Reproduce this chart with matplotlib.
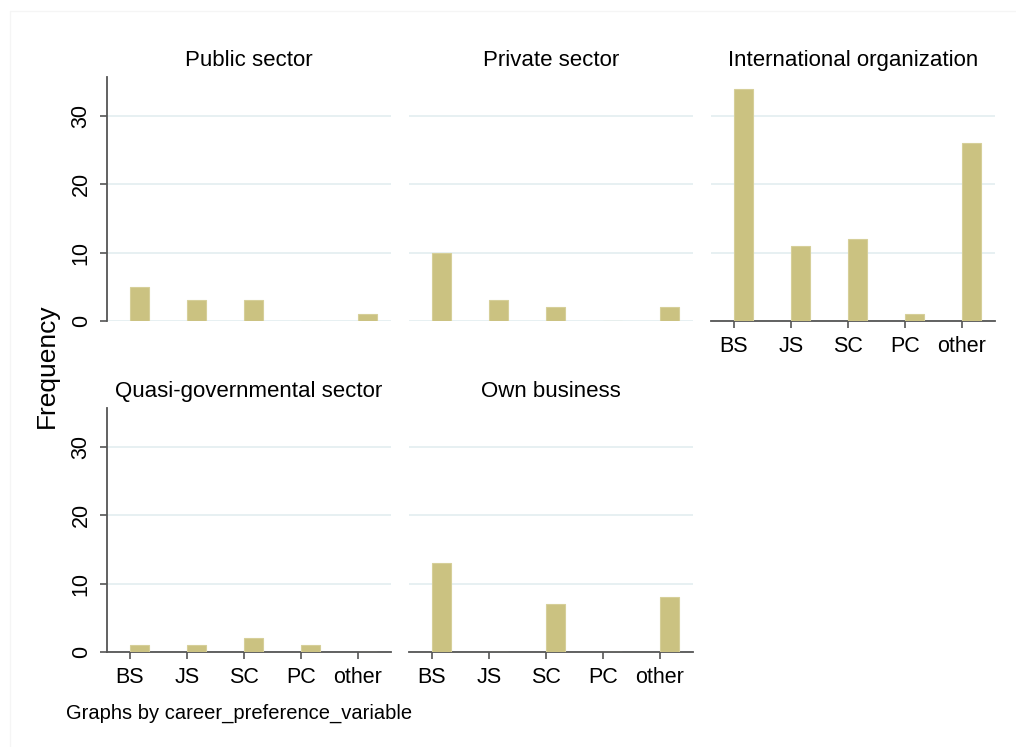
import numpy as np
import matplotlib.pyplot as plt
from matplotlib.patches import Rectangle

plt.rcParams['font.family'] = ['Liberation Sans', 'DejaVu Sans']

categories = ["BS", "JS", "SC", "PC", "other"]
groups = ["Public sector", "Private sector", "International organization",
          "Quasi-governmental sector", "Own business"]
public_sector = [5, 3, 3, 0, 1]
private_sector = [10, 3, 2, 0, 2]
international_org = [34, 11, 12, 1, 26]
quasi_govt = [1, 1, 2, 1, 0]
own_business = [13, 0, 7, 0, 8]
counts = [public_sector, private_sector, international_org, quasi_govt, own_business]

W, H = 1016, 747
fig = plt.figure(figsize=(W / 100, H / 100), dpi=100)
fig.patch.set_facecolor("white")

# faint outer frame of the graph region
fig.patches.append(Rectangle((10 / W, -0.1), 1.2, 1 - 11 / H + 0.1,
                             transform=fig.transFigure, fill=False,
                             edgecolor="#f5f5f5", linewidth=1))

bar_color = "#cbc281"
grid_color = "#e3edf0"
axis_color = "#555555"

col_left = [107, 409, 711]
row_top = [77, 408]
pw, ph = 284, 244

# (row, col, show y-axis, show x-axis)
layout = [(0, 0, True, False), (0, 1, False, False), (0, 2, False, True),
          (1, 0, True, True), (1, 1, False, True)]

x = np.arange(1, len(categories) + 1)

for (r, c, show_y, show_x), title, vals in zip(layout, groups, counts):
    ax = fig.add_axes([col_left[c] / W, 1 - (row_top[r] + ph) / H, pw / W, ph / H])
    ax.bar(x, vals, width=0.33, align="edge", color=bar_color,
           edgecolor="#d6cf99", linewidth=0.8, zorder=3)
    ax.set_xlim(0.6, 5.58)
    ax.set_ylim(0, 35.7)
    ax.set_yticks([0, 10, 20, 30])
    ax.yaxis.grid(True, color=grid_color, linewidth=1.2, zorder=0)
    ax.set_axisbelow(True)
    for s in ["top", "right"]:
        ax.spines[s].set_visible(False)
    ax.spines["left"].set_visible(show_y)
    ax.spines["bottom"].set_visible(show_x)
    for s in ["left", "bottom"]:
        ax.spines[s].set_color(axis_color)
        ax.spines[s].set_linewidth(1.3)
    ax.tick_params(axis="y", length=5 if show_y else 0, width=1.2, color=axis_color,
                   labelleft=show_y, labelsize=15.5, pad=6, labelrotation=90)
    for lab in ax.get_yticklabels():
        lab.set_va("center")
    ax.set_xticks(x)
    ax.set_xticklabels(categories)
    ax.tick_params(axis="x", length=5 if show_x else 0, width=1.2, color=axis_color,
                   labelbottom=show_x, labelsize=15.5, pad=6)
    ax.set_title(title, fontsize=16, pad=8)

fig.text(47 / W, 1 - 366 / H, "Frequency", rotation=90, fontsize=19,
         ha="center", va="center")
fig.text(66 / W, 1 - 713 / H, "Graphs by career_preference_variable",
         fontsize=14.5, ha="left", va="center")

fig.savefig("out.png", dpi=100, facecolor="white")
